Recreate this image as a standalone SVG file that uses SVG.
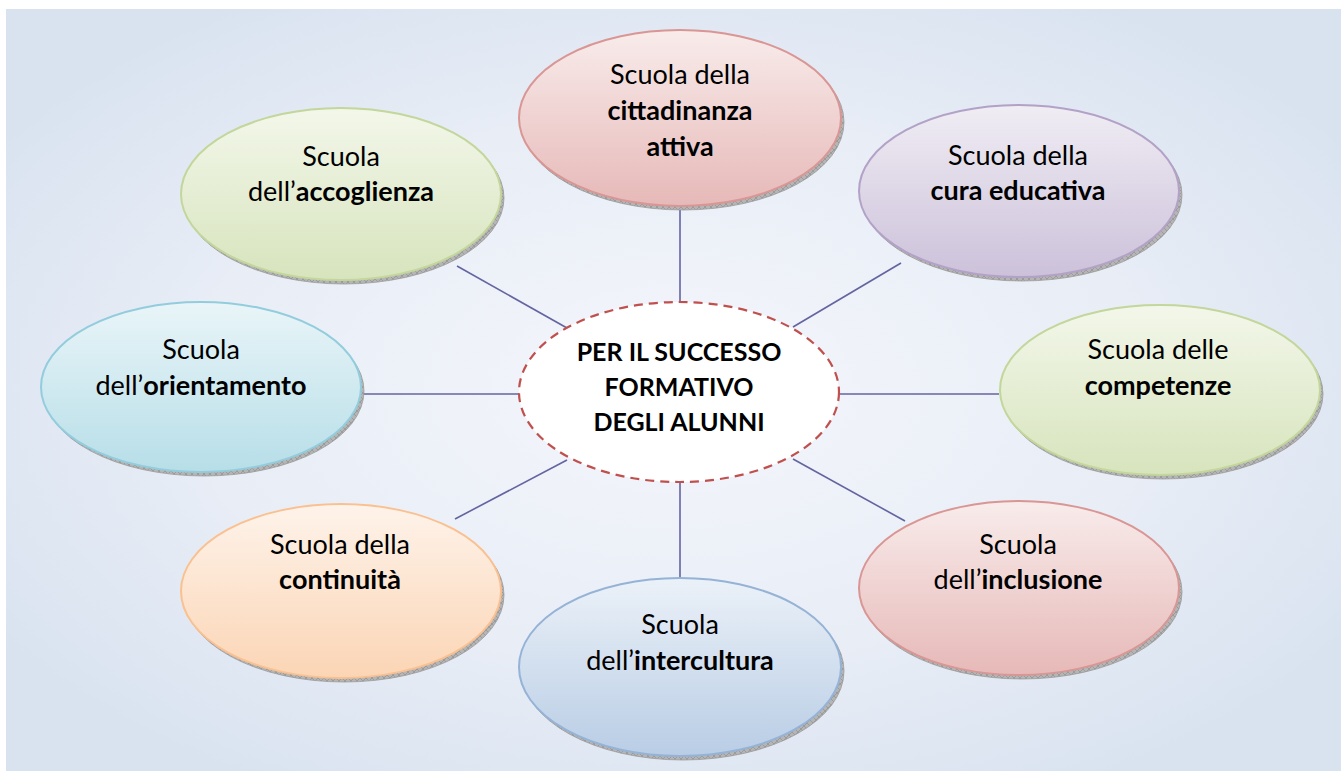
<svg xmlns="http://www.w3.org/2000/svg" width="1341" height="771" viewBox="0 0 1341 771">
<defs>
<radialGradient id="bg" cx="50%" cy="50%" r="60%">
<stop offset="0" stop-color="#f4f6fb"/>
<stop offset="0.6" stop-color="#e8edf6"/>
<stop offset="1" stop-color="#d9e3f0"/>
</radialGradient>
<linearGradient id="gRed" x1="0" y1="0" x2="0" y2="1"><stop offset="0" stop-color="#f8eceb"/><stop offset="1" stop-color="#e6b9b8"/></linearGradient>
<linearGradient id="gGreen" x1="0" y1="0" x2="0" y2="1"><stop offset="0" stop-color="#f3f7ea"/><stop offset="1" stop-color="#d7e4bd"/></linearGradient>
<linearGradient id="gPurple" x1="0" y1="0" x2="0" y2="1"><stop offset="0" stop-color="#f0edf4"/><stop offset="1" stop-color="#ccc1da"/></linearGradient>
<linearGradient id="gTeal" x1="0" y1="0" x2="0" y2="1"><stop offset="0" stop-color="#e9f5f8"/><stop offset="1" stop-color="#b7dee8"/></linearGradient>
<linearGradient id="gOrange" x1="0" y1="0" x2="0" y2="1"><stop offset="0" stop-color="#fef3ea"/><stop offset="1" stop-color="#fbd5b5"/></linearGradient>
<linearGradient id="gBlue" x1="0" y1="0" x2="0" y2="1"><stop offset="0" stop-color="#ebf1f8"/><stop offset="1" stop-color="#b9cde5"/></linearGradient>
<pattern id="hatch" width="6" height="6" patternUnits="userSpaceOnUse">
<rect width="6" height="6" fill="#b5b5b5"/>
<path d="M0 0L6 6M6 0L0 6" stroke="#8a8a8a" stroke-width="0.6"/>
</pattern>
</defs>
<style>
.t{font-family:Lato,"Open Sans",sans-serif;font-size:27px;fill:#000;text-anchor:middle}
.b{font-weight:bold}
.c{font-size:25px}
.sh{fill:url(#hatch);stroke:#9a9a9a;stroke-width:0.8}
.con{stroke:#6464a0;stroke-width:1.6;fill:none}
</style>
<rect x="0" y="0" width="1341" height="771" fill="#ffffff"/>
<rect x="6" y="9" width="1335" height="762" fill="url(#bg)"/>

<g id="connectors">
<line class="con" x1="680" y1="210" x2="680" y2="301"/>
<line class="con" x1="457" y1="266" x2="567" y2="328"/>
<line class="con" x1="901" y1="263" x2="793" y2="327"/>
<line class="con" x1="362" y1="394" x2="520" y2="394"/>
<line class="con" x1="839" y1="394" x2="999" y2="394"/>
<line class="con" x1="455" y1="519" x2="567" y2="460"/>
<line class="con" x1="905" y1="521" x2="793" y2="459"/>
<line class="con" x1="680" y1="482" x2="680" y2="578"/>
</g>

<g id="n-cittadinanza">
<ellipse class="sh" cx="683" cy="122" rx="161" ry="88"/>
<ellipse cx="680" cy="118" rx="161" ry="88" fill="url(#gRed)" stroke="#d99694" stroke-width="2"/>
<text class="t" x="680" y="84">Scuola della</text>
<text class="t b" x="680" y="120">cittadinanza</text>
<text class="t b" x="680" y="156">attiva</text>
</g>

<g id="n-accoglienza">
<ellipse class="sh" cx="344" cy="198" rx="160" ry="86"/>
<ellipse cx="341" cy="194" rx="160" ry="86" fill="url(#gGreen)" stroke="#c3d69b" stroke-width="2"/>
<text class="t" x="341" y="166">Scuola</text>
<text class="t" x="341" y="201">dell’<tspan class="b">accoglienza</tspan></text>
</g>

<g id="n-cura">
<ellipse class="sh" cx="1022" cy="195" rx="160" ry="86"/>
<ellipse cx="1019" cy="191" rx="160" ry="86" fill="url(#gPurple)" stroke="#b3a2c7" stroke-width="2"/>
<text class="t" x="1018" y="165">Scuola della</text>
<text class="t b" x="1018" y="200">cura educativa</text>
</g>

<g id="n-orientamento">
<ellipse class="sh" cx="204" cy="391" rx="160" ry="85"/>
<ellipse cx="201" cy="387" rx="160" ry="85" fill="url(#gTeal)" stroke="#93cddd" stroke-width="2"/>
<text class="t" x="201" y="359">Scuola</text>
<text class="t" x="201" y="395">dell’<tspan class="b">orientamento</tspan></text>
</g>

<g id="n-competenze">
<ellipse class="sh" cx="1163" cy="394" rx="160" ry="85"/>
<ellipse cx="1160" cy="390" rx="160" ry="85" fill="url(#gGreen)" stroke="#c3d69b" stroke-width="2"/>
<text class="t" x="1158" y="359">Scuola delle</text>
<text class="t b" x="1158" y="395">competenze</text>
</g>

<g id="n-continuita">
<ellipse class="sh" cx="344" cy="595" rx="160" ry="87"/>
<ellipse cx="341" cy="591" rx="160" ry="87" fill="url(#gOrange)" stroke="#fac090" stroke-width="2"/>
<text class="t" x="340" y="554">Scuola della</text>
<text class="t b" x="340" y="589">continuità</text>
</g>

<g id="n-inclusione">
<ellipse class="sh" cx="1022" cy="592" rx="160" ry="87"/>
<ellipse cx="1019" cy="588" rx="160" ry="87" fill="url(#gRed)" stroke="#d99694" stroke-width="2"/>
<text class="t" x="1018" y="554">Scuola</text>
<text class="t" x="1018" y="589">dell’<tspan class="b">inclusione</tspan></text>
</g>

<g id="n-intercultura">
<ellipse class="sh" cx="683" cy="671" rx="161" ry="89"/>
<ellipse cx="680" cy="667" rx="161" ry="89" fill="url(#gBlue)" stroke="#95b3d7" stroke-width="2"/>
<text class="t" x="680" y="634">Scuola</text>
<text class="t" x="680" y="670">dell’<tspan class="b">intercultura</tspan></text>
</g>

<g id="n-center">
<ellipse cx="679" cy="392" rx="160" ry="90" fill="#ffffff" stroke="#c0504d" stroke-width="2.2" stroke-dasharray="9,6"/>
<text class="t b c" x="679" y="361">PER IL SUCCESSO</text>
<text class="t b c" x="679" y="396">FORMATIVO</text>
<text class="t b c" x="679" y="431">DEGLI ALUNNI</text>
</g>
</svg>
